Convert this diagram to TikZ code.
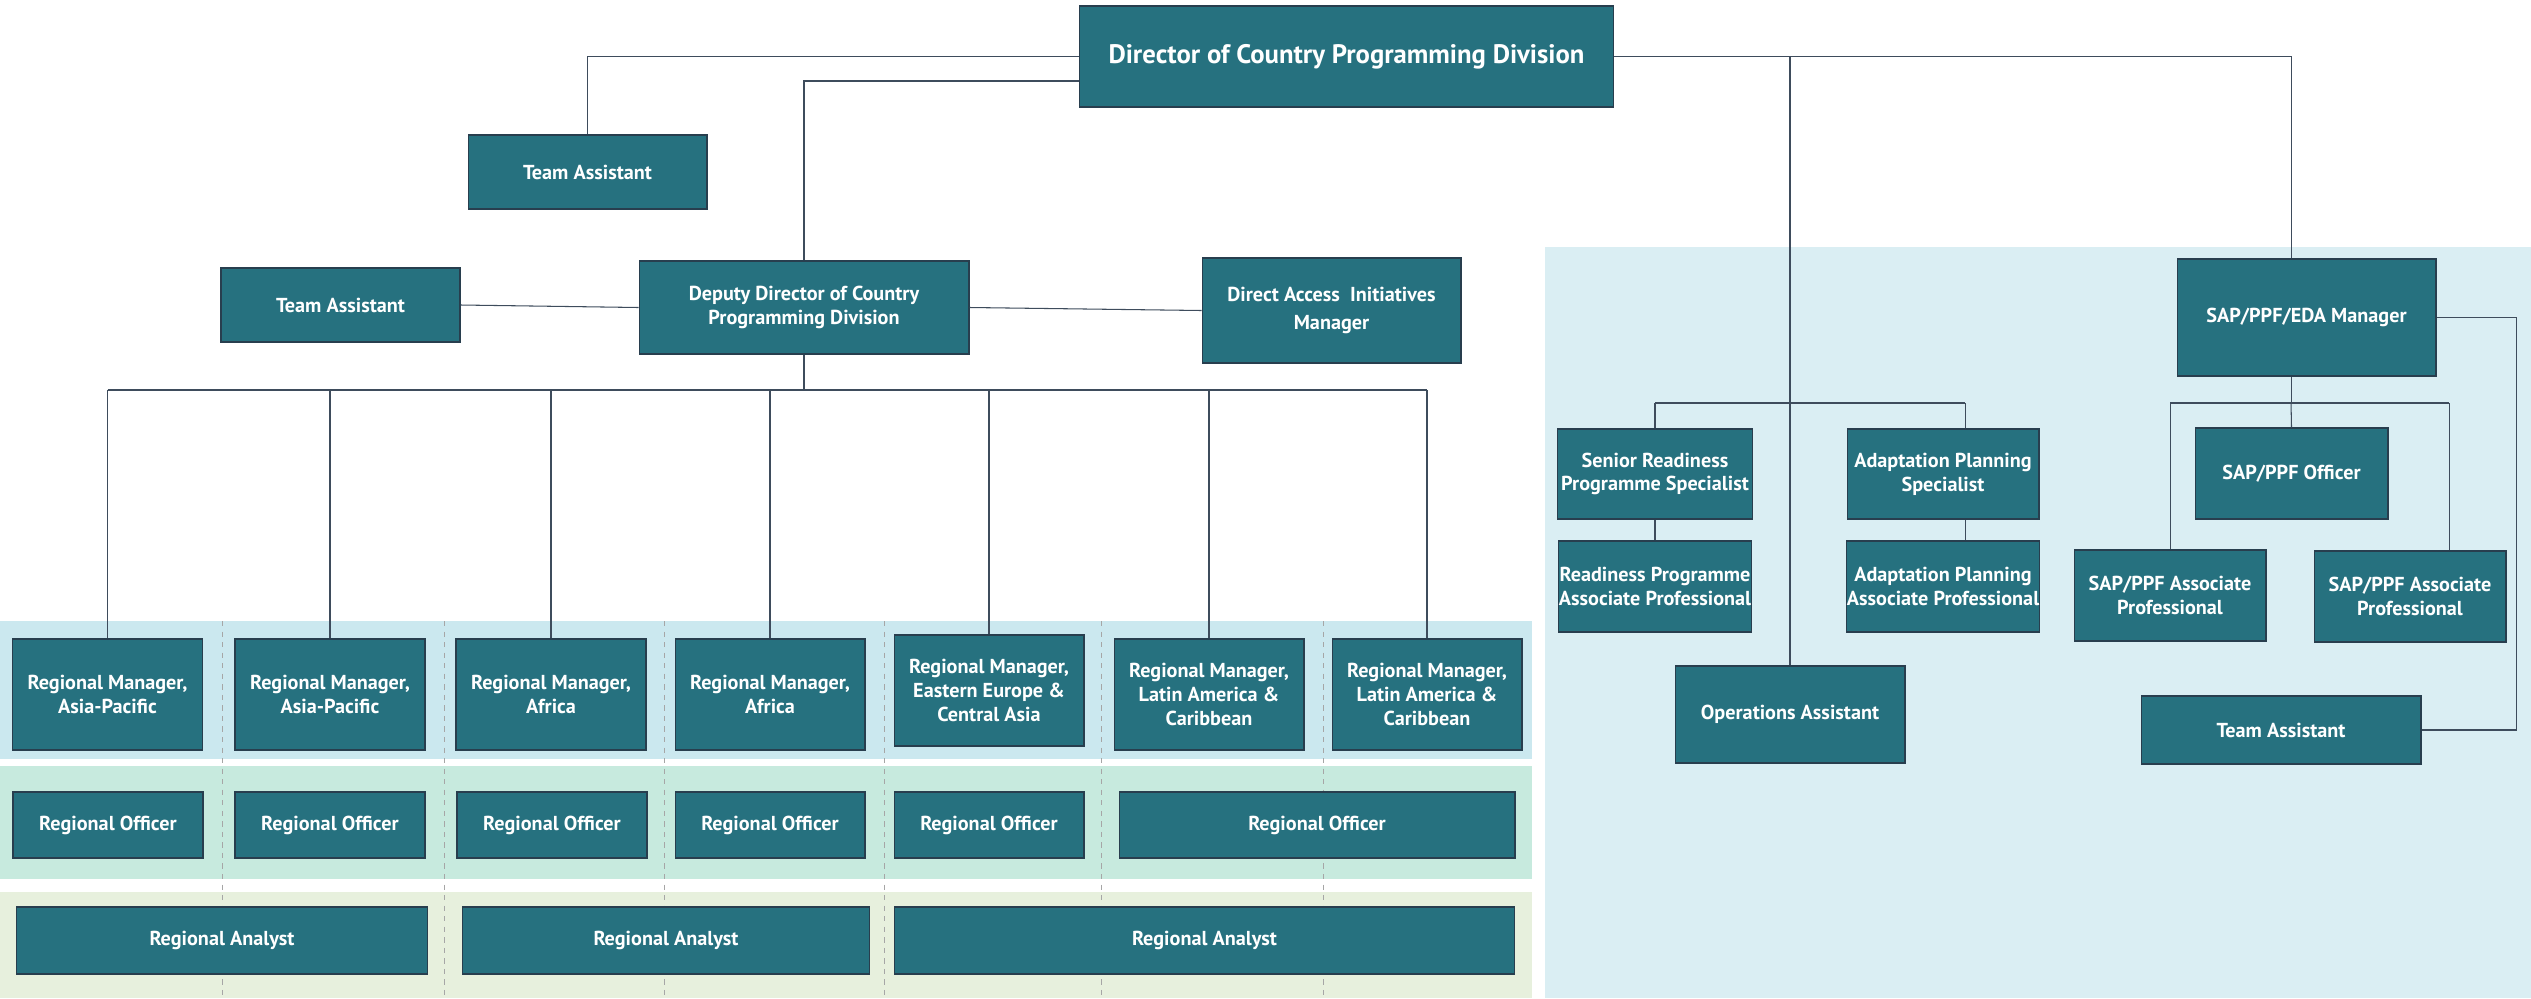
\documentclass[tikz,border=0pt]{standalone}
\usepackage{fontspec}
\setmainfont{PT Sans}
\definecolor{boxfill}{RGB}{38,113,127}
\definecolor{boxline}{RGB}{40,62,78}
\definecolor{connline}{RGB}{62,76,92}
\definecolor{bandone}{RGB}{203,232,239}
\definecolor{bandtwo}{RGB}{199,234,222}
\definecolor{bandthree}{RGB}{231,240,221}
\definecolor{panelbg}{RGB}{218,238,243}
\tikzset{
  post/.style={draw=boxline, line width=0.6pt, fill=boxfill, text=white, align=center,
    font=\fontsize{11.5}{13.5}\selectfont\bfseries, inner xsep=2pt},
  conn/.style={draw=connline, line width=0.6pt},
  sep/.style={draw=gray!70, dashed, line width=0.5pt}
}
\begin{document}
\begin{tikzpicture}[x=0.02cm, y=-0.02cm]
  \useasboundingbox (0,0) rectangle (2531,998);

  % backgrounds
  \fill[bandone] (0,621) rectangle (1532,759);
  \fill[bandtwo] (0,766) rectangle (1532,879);
  \fill[bandthree] (0,892) rectangle (1532,998);
  \fill[panelbg] (1545,247) rectangle (2531,998);
  \foreach \x in {222,444,664,884,1101,1323}
    \draw[sep] (\x,621) -- (\x,998);

  % top
  \node[post, minimum width=10.7cm, minimum height=2.02cm, font=\fontsize{15.2}{18}\selectfont\bfseries] (dir) at (1346.5,56.5) {Director of Country Programming Division};
  \node[post, minimum width=4.78cm, minimum height=1.48cm] (ta1) at (587.5,172) {Team Assistant};
  \node[post, minimum width=6.6cm, minimum height=1.86cm] (dep) at (804,307.5) {Deputy Director of Country\\Programming Division};
  \node[post, minimum width=4.78cm, minimum height=1.48cm] (ta2) at (340.5,305) {Team Assistant};
  \node[post, minimum width=5.18cm, minimum height=2.1cm, font=\fontsize{11.5}{16}\selectfont\bfseries] (dai) at (1331.5,310.5) {Direct Access~ Initiatives\\Manager};

  % regional managers
  \node[post, minimum width=3.8cm, minimum height=2.22cm] (rm1) at (107.5,694.5) {Regional Manager,\\Asia-Pacific};
  \node[post, minimum width=3.8cm, minimum height=2.22cm] (rm2) at (330,694.5) {Regional Manager,\\Asia-Pacific};
  \node[post, minimum width=3.8cm, minimum height=2.22cm] (rm3) at (551,694.5) {Regional Manager,\\Africa};
  \node[post, minimum width=3.8cm, minimum height=2.22cm] (rm4) at (770,694.5) {Regional Manager,\\Africa};
  \node[post, minimum width=3.8cm, minimum height=2.22cm] (rm5) at (989,690.5) {Regional Manager,\\Eastern Europe \&\\Central Asia};
  \node[post, minimum width=3.8cm, minimum height=2.22cm] (rm6) at (1209,694.5) {Regional Manager,\\Latin America \&\\Caribbean};
  \node[post, minimum width=3.8cm, minimum height=2.22cm] (rm7) at (1427,694.5) {Regional Manager,\\Latin America \&\\Caribbean};

  % regional officers
  \node[post, minimum width=3.8cm, minimum height=1.32cm] (ro1) at (108,825) {Regional Officer};
  \node[post, minimum width=3.8cm, minimum height=1.32cm] (ro2) at (330,825) {Regional Officer};
  \node[post, minimum width=3.8cm, minimum height=1.32cm] (ro3) at (552,825) {Regional Officer};
  \node[post, minimum width=3.8cm, minimum height=1.32cm] (ro4) at (770,825) {Regional Officer};
  \node[post, minimum width=3.8cm, minimum height=1.32cm] (ro5) at (989,825) {Regional Officer};
  \node[post, minimum width=7.92cm, minimum height=1.32cm] (ro6) at (1317,825) {Regional Officer};

  % regional analysts
  \node[post, minimum width=8.24cm, minimum height=1.34cm] (ra1) at (222,940.5) {Regional Analyst};
  \node[post, minimum width=8.16cm, minimum height=1.34cm] (ra2) at (666,940.5) {Regional Analyst};
  \node[post, minimum width=12.42cm, minimum height=1.34cm] (ra3) at (1204.5,940.5) {Regional Analyst};

  % readiness and adaptation
  \node[post, minimum width=3.84cm, minimum height=1.8cm] (srps) at (1655,474) {Senior Readiness\\Programme Specialist};
  \node[post, minimum width=3.84cm, minimum height=1.8cm] (aps) at (1943,474) {Adaptation Planning\\Specialist};
  \node[post, minimum width=3.84cm, minimum height=1.82cm, inner xsep=0pt] (rpap) at (1655,586.5) {Readiness Programme\\Associate Professional};
  \node[post, minimum width=3.84cm, minimum height=1.82cm, inner xsep=0pt] (apap) at (1943,586.5) {Adaptation Planning\\Associate Professional};
  \node[post, minimum width=4.6cm, minimum height=1.94cm] (ops) at (1790,714.5) {Operations Assistant};

  % SAP/PPF
  \node[post, minimum width=5.18cm, minimum height=2.34cm] (sapm) at (2306.5,317.5) {SAP/PPF/EDA Manager};
  \node[post, minimum width=3.86cm, minimum height=1.82cm] (sapo) at (2291.5,473.5) {SAP/PPF Officer};
  \node[post, minimum width=3.84cm, minimum height=1.82cm] (sapa1) at (2170,595.5) {SAP/PPF Associate\\Professional};
  \node[post, minimum width=3.84cm, minimum height=1.82cm] (sapa2) at (2410,596.5) {SAP/PPF Associate\\Professional};
  \node[post, minimum width=5.6cm, minimum height=1.36cm] (ta3) at (2281,730) {Team Assistant};

  % bus points
  \coordinate (dirlow) at (1079,81);
  \coordinate (rbus) at (804,390);
  \coordinate (pbus) at (1790,403);
  \coordinate (apsx) at (1965,403);
  \coordinate (sbus) at (2291,403);
  \coordinate (sbusr) at (2449,403);
  \coordinate (sside) at (2516,317.5);

  % connectors
  \draw[conn] (dir.west) -| (ta1.north);
  \draw[conn] (dirlow) -| (dep.north);
  \draw[conn] (dir.east) -| (sbus |- sapm.north);
  \draw[conn] (dir.east -| ops.north) -- (ops.north);
  \draw[conn] (ta2.east) -- (dep.west);
  \draw[conn] (dep.east) -- (dai.west);
  \draw[conn] (dep.south) -- (rbus);
  \draw[conn] (rbus -| rm1.north) -- (rbus -| rm7.north);
  \foreach \i in {1,...,7}
    \draw[conn] (rbus -| rm\i.north) -- (rm\i.north);

  \draw[conn] (pbus -| srps.north) -- (apsx);
  \draw[conn] (pbus -| srps.north) -- (srps.north);
  \draw[conn] (apsx) -- (apsx |- aps.north);
  \draw[conn] (srps.south) -- (rpap.north);
  \draw[conn] (apsx |- aps.south) -- (apsx |- apap.north);

  \draw[conn] (sbus |- sapm.south) -- (sbus);
  \draw[conn] (sbus -| sapa1.north) -- (sbusr);
  \draw[conn] (sbus -| sapa1.north) -- (sapa1.north);
  \draw[conn] (sbus) -- (sapo.north);
  \draw[conn] (sbusr) -- (sbusr |- sapa2.north);
  \draw[conn] (sapm.east) -- (sside) |- (ta3.east);
\end{tikzpicture}
\end{document}
